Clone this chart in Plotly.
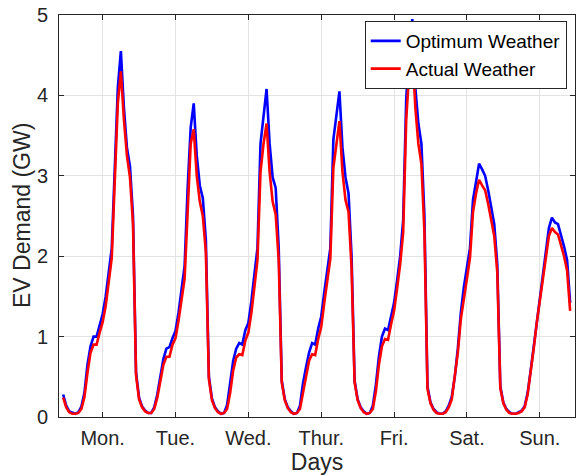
import numpy as np
import plotly.graph_objects as go

# Hourly EV charging demand (GW) over one week, hour 0..23 of each day
days = ["Mon.", "Tue.", "Wed.", "Thur.", "Fri.", "Sat.", "Sun."]

opt_mon = [0.28, 0.14, 0.07, 0.05, 0.04, 0.06, 0.13, 0.30, 0.65, 0.88, 1.00, 1.00,
           1.13, 1.28, 1.50, 1.78, 2.10, 3.10, 4.10, 4.55, 3.85, 3.35, 3.12, 2.50]
opt_tue = [0.55, 0.24, 0.13, 0.08, 0.05, 0.05, 0.12, 0.28, 0.50, 0.72, 0.85, 0.87,
           0.98, 1.07, 1.30, 1.62, 1.88, 2.85, 3.60, 3.90, 3.25, 2.88, 2.72, 2.20]
opt_wed = [0.50, 0.23, 0.12, 0.07, 0.04, 0.05, 0.15, 0.42, 0.70, 0.85, 0.92, 0.90,
           1.08, 1.17, 1.44, 1.78, 2.10, 3.40, 3.75, 4.08, 3.40, 2.98, 2.85, 2.10]
opt_thu = [0.45, 0.22, 0.12, 0.07, 0.04, 0.05, 0.14, 0.42, 0.62, 0.80, 0.92, 0.90,
           1.10, 1.25, 1.55, 1.80, 2.10, 3.45, 3.75, 4.05, 3.35, 2.98, 2.78, 2.00]
opt_fri = [0.45, 0.22, 0.12, 0.07, 0.04, 0.05, 0.14, 0.40, 0.75, 1.00, 1.10, 1.08,
           1.25, 1.42, 1.70, 2.00, 2.45, 3.95, 4.60, 4.95, 4.10, 3.65, 3.40, 2.50]
opt_sat = [0.38, 0.18, 0.10, 0.06, 0.04, 0.04, 0.07, 0.14, 0.25, 0.50, 0.85, 1.30,
           1.62, 1.85, 2.10, 2.70, 2.95, 3.15, 3.08, 3.00, 2.82, 2.60, 2.40, 1.90]
opt_sun = [0.38, 0.18, 0.10, 0.06, 0.04, 0.04, 0.06, 0.08, 0.13, 0.30, 0.58, 0.88,
           1.22, 1.50, 1.82, 2.05, 2.35, 2.48, 2.42, 2.40, 2.27, 2.12, 1.95, 1.42]

act_mon = [0.24, 0.12, 0.06, 0.04, 0.04, 0.05, 0.10, 0.25, 0.55, 0.80, 0.90, 0.90,
           1.05, 1.18, 1.38, 1.65, 1.98, 2.95, 3.90, 4.30, 3.70, 3.25, 2.98, 2.40]
act_tue = [0.52, 0.22, 0.12, 0.07, 0.05, 0.05, 0.10, 0.24, 0.45, 0.65, 0.75, 0.75,
           0.90, 0.98, 1.20, 1.45, 1.72, 2.55, 3.40, 3.58, 3.00, 2.68, 2.50, 2.05]
act_wed = [0.47, 0.21, 0.11, 0.06, 0.04, 0.05, 0.10, 0.30, 0.58, 0.74, 0.78, 0.77,
           0.95, 1.05, 1.30, 1.62, 1.95, 3.05, 3.40, 3.65, 3.05, 2.68, 2.52, 1.95]
act_thu = [0.43, 0.21, 0.11, 0.06, 0.04, 0.05, 0.10, 0.30, 0.52, 0.70, 0.78, 0.77,
           0.97, 1.12, 1.42, 1.68, 1.97, 3.10, 3.40, 3.68, 3.05, 2.70, 2.55, 1.85]
act_fri = [0.43, 0.21, 0.11, 0.06, 0.04, 0.05, 0.10, 0.32, 0.65, 0.88, 0.97, 0.96,
           1.15, 1.32, 1.60, 1.90, 2.30, 3.70, 4.30, 4.60, 3.85, 3.40, 3.15, 2.30]
act_sat = [0.35, 0.17, 0.09, 0.05, 0.04, 0.04, 0.06, 0.12, 0.22, 0.48, 0.80, 1.22,
           1.50, 1.72, 1.98, 2.55, 2.78, 2.95, 2.88, 2.82, 2.65, 2.45, 2.25, 1.80]
act_sun = [0.36, 0.17, 0.09, 0.05, 0.04, 0.04, 0.05, 0.07, 0.12, 0.28, 0.55, 0.85,
           1.17, 1.44, 1.75, 1.97, 2.25, 2.35, 2.30, 2.27, 2.15, 2.00, 1.82, 1.32]

optimum = opt_mon + opt_tue + opt_wed + opt_thu + opt_fri + opt_sat + opt_sun
actual = act_mon + act_tue + act_wed + act_thu + act_fri + act_sat + act_sun
hours = np.arange(len(optimum))
day_ticks = [13 + 24 * k for k in range(len(days))]

FONT = "Liberation Sans, Arial, Helvetica, sans-serif"
INK = "#262626"
GRID = "#e3e3e3"

fig = go.Figure()
fig.add_trace(go.Scatter(x=hours, y=optimum, mode="lines", name="Optimum Weather",
                         line=dict(color="#0000ff", width=2.6)))
fig.add_trace(go.Scatter(x=hours, y=actual, mode="lines", name="Actual Weather",
                         line=dict(color="#ff0000", width=2.6)))

axis_common = dict(
    showline=True, linecolor=INK, linewidth=1, mirror="ticks",
    ticks="inside", ticklen=5, tickwidth=1, tickcolor=INK,
    showgrid=True, gridcolor=GRID, gridwidth=1, zeroline=False,
    tickfont=dict(family=FONT, size=20, color=INK),
)

fig.update_xaxes(
    range=[-1.38, 168.6], tickvals=day_ticks, ticktext=days,
    title=dict(text="Days", font=dict(family=FONT, size=23, color=INK), standoff=4),
    ticklabelstandoff=3, **axis_common,
)
fig.update_yaxes(
    range=[0, 5], tickvals=[0, 1, 2, 3, 4, 5],
    ticklabelstandoff=6, **axis_common,
)

# y-axis title placed as a rotated annotation left of the tick labels
fig.add_annotation(
    text="EV Demand (GW)", xref="paper", yref="paper",
    x=-0.0717, y=0.5, xanchor="center", yanchor="middle", textangle=-90,
    showarrow=False, font=dict(family=FONT, size=23, color=INK),
)

fig.update_layout(
    width=576, height=475,
    margin=dict(l=59, r=1, t=15, b=58, autoexpand=False),
    paper_bgcolor="white", plot_bgcolor="white",
    showlegend=True,
    legend=dict(
        x=0.984, y=0.985, xanchor="right", yanchor="top",
        bgcolor="white", bordercolor="#262626", borderwidth=1,
        font=dict(family=FONT, size=19, color="black"),
        tracegroupgap=0, itemwidth=30,
    ),
)

fig.write_html("out.html")
